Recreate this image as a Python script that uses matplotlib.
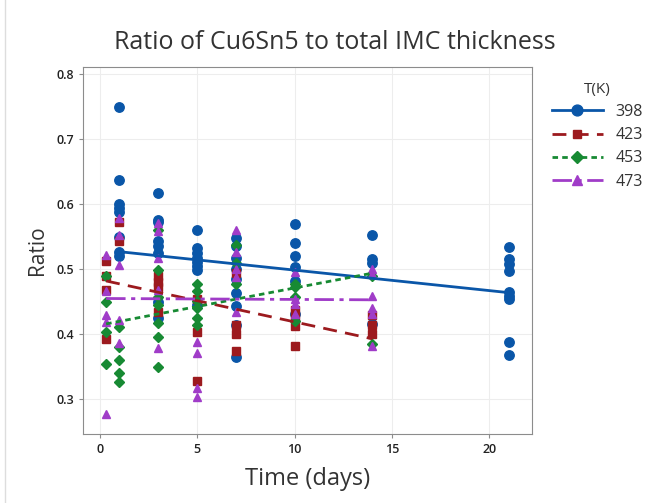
import matplotlib
matplotlib.use("Agg")
import matplotlib.pyplot as plt
from matplotlib.lines import Line2D

plt.rcParams['font.family'] = ['Open Sans', 'DejaVu Sans']

days = [0.33, 1, 3, 5, 7, 10, 14, 21]
temps = ['398', '423', '453', '473']

# ratio values per temperature, one list per day in `days`
r398 = [[],
        [0.750, 0.637, 0.601, 0.594, 0.588, 0.549, 0.527, 0.520],
        [0.617, 0.576, 0.572, 0.543, 0.535, 0.525, 0.450, 0.425],
        [0.561, 0.532, 0.525, 0.518, 0.511, 0.505, 0.499, 0.445],
        [0.548, 0.535, 0.518, 0.500, 0.485, 0.463, 0.443, 0.414, 0.365],
        [0.569, 0.541, 0.520, 0.503, 0.482, 0.431],
        [0.553, 0.515, 0.510, 0.416],
        [0.534, 0.515, 0.508, 0.497, 0.465, 0.459, 0.454, 0.388, 0.368]]
r423 = [[0.513, 0.489, 0.468, 0.393],
        [0.573, 0.543],
        [0.489, 0.480, 0.473, 0.435],
        [0.455, 0.404, 0.328],
        [0.494, 0.414, 0.400, 0.374],
        [0.437, 0.425, 0.412, 0.382],
        [0.430, 0.415, 0.400],
        []]
r453 = [[0.489, 0.450, 0.404, 0.355],
        [0.411, 0.380, 0.361, 0.341, 0.327],
        [0.560, 0.499, 0.458, 0.445, 0.417, 0.396, 0.349],
        [0.478, 0.466, 0.451, 0.440, 0.425, 0.414],
        [0.537, 0.509, 0.478],
        [0.477, 0.472, 0.457, 0.420],
        [0.490, 0.385],
        []]
r473 = [[0.522, 0.466, 0.430, 0.419, 0.277],
        [0.578, 0.552, 0.507, 0.422, 0.387],
        [0.571, 0.558, 0.518, 0.468, 0.379],
        [0.388, 0.371, 0.318, 0.304],
        [0.560, 0.527, 0.501, 0.488, 0.435],
        [0.495, 0.454, 0.446, 0.431],
        [0.500, 0.492, 0.459, 0.441, 0.431, 0.382],
        []]

# fitted regression lines (start day, end day, value at start, value at end)
fit_x0 = [1, 0.33, 0.33, 0.33]
fit_x1 = [21, 14, 14, 14]
fit_y0 = [0.527, 0.482, 0.416, 0.455]
fit_y1 = [0.464, 0.393, 0.494, 0.453]

colors = ['#0A56A8', '#9C1A1E', '#178A33', '#A03CC8']
markers = ['o', 's', 'D', '^']
msizes = [6.8, 5.2, 4.8, 6.3]
styles = ['-', (0, (5, 3)), (0, (2, 1.5)), (0, (7, 2, 1.5, 2))]

fig = plt.figure(figsize=(6.53, 5.03), dpi=100)
ax = fig.add_axes([0.127, 0.137, 0.688, 0.73])

handles = []
for i, vals in enumerate([r398, r423, r453, r473]):
    xs, ys = [], []
    for d, v in zip(days, vals):
        xs += [d] * len(v)
        ys += v
    ax.plot(xs, ys, linestyle='none', marker=markers[i], ms=msizes[i],
            color=colors[i], zorder=3)
    ax.plot([fit_x0[i], fit_x1[i]], [fit_y0[i], fit_y1[i]], color=colors[i],
            linestyle=styles[i], lw=2, zorder=4)
    handles.append(Line2D([], [], color=colors[i], linestyle=styles[i], lw=2,
                          marker=markers[i], ms=msizes[i] + 1))

ax.set_xlim(-0.86, 22.2)
ax.set_ylim(0.2466, 0.811)
ax.set_xticks([0, 5, 10, 15, 20])
ax.set_yticks([0.3, 0.4, 0.5, 0.6, 0.7, 0.8])
ax.set_yticklabels(['0.3', '0.4', '0.5', '0.6', '0.7', '0.8'])
ax.grid(True, color='#EDEDED', lw=0.8, zorder=0)
ax.set_axisbelow(True)
for s in ax.spines.values():
    s.set_color('#8C8C8C')
ax.tick_params(colors='#8C8C8C', labelcolor='#222222', labelsize=9, length=3)
for lab in ax.get_xticklabels() + ax.get_yticklabels():
    lab.set_fontweight('semibold')

ax.set_xlabel('Time (days)', fontsize=17, color='#333333', labelpad=8)
ax.set_ylabel('Ratio', fontsize=15, color='#333333', labelpad=6)
fig.text(0.513, 0.916, 'Ratio of Cu6Sn5 to total IMC thickness', fontsize=18,
         color='#333333', ha='center', va='center')

leg = fig.legend(handles, temps, loc='upper left', bbox_to_anchor=(0.823, 0.866),
                 frameon=False, title='T(K)', fontsize=11.5, title_fontsize=11,
                 handlelength=3.2, labelspacing=0.45, alignment='center',
                 labelcolor='#333333')
leg.get_title().set_color('#333333')

fig.add_artist(Line2D([0.008, 0.008], [0, 1], color='#DDDDDD', lw=1))

fig.savefig('out.png', dpi=100)
